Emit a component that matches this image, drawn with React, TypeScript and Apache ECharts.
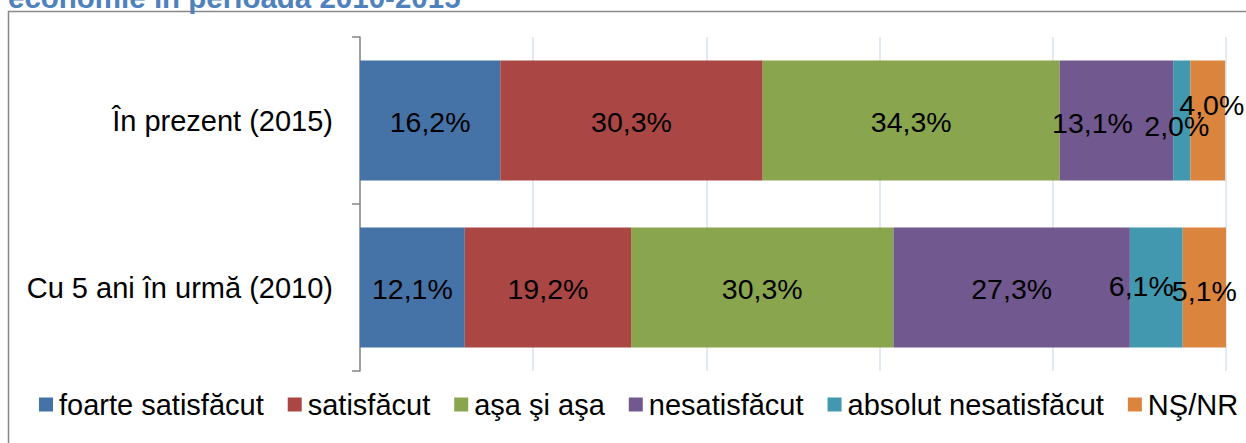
import React, { useEffect, useRef } from "react";
import * as echarts from "echarts";

const categories = ["În prezent (2015)", "Cu 5 ani în urmă (2010)"];
const seriesNames = [
  "foarte satisfăcut",
  "satisfăcut",
  "aşa şi aşa",
  "nesatisfăcut",
  "absolut nesatisfăcut",
  "NŞ/NR",
];
const values2015 = [16.2, 30.3, 34.3, 13.1, 2.0, 4.0];
const values2010 = [12.1, 19.2, 30.3, 27.3, 6.1, 5.1];
const colors = ["#4572A7", "#AA4643", "#89A54E", "#71588F", "#4198AF", "#DB843D"];
// label nudges [dx, dy] per series for [2015, 2010]
const labelOffsets: number[][][] = [
  [[0, 1], [0, 1]],
  [[0, 1], [0, 1]],
  [[0, 1], [0, 1]],
  [[-24, 2], [0, 1]],
  [[-5, 5], [-15, -2]],
  [[4, -16], [0, 3]],
];
const titleText = "economie în perioada 2010-2015";

const FONT = "Arial, 'Liberation Sans', sans-serif";

export default function App() {
  const ref = useRef<HTMLDivElement>(null);
  useEffect(() => {
    if (!ref.current) return;
    const chart = echarts.init(ref.current, null, { renderer: "svg" });
    const fmt = (v: number) => v.toFixed(1).replace(".", ",") + "%";
    const series = seriesNames.map((name, i) => ({
      name,
      type: "bar",
      stack: "total",
      barCategoryGap: "28%",
      itemStyle: { color: colors[i] },
      label: {
        show: true,
        position: "inside",
        color: "#000",
        fontFamily: FONT,
        fontSize: 28.5,
        formatter: (p: any) => fmt(p.value),
      },
      data: [values2015[i], values2010[i]].map((v, j) => ({
        value: v,
        label: { offset: labelOffsets[i][j] },
      })),
    }));
    chart.setOption({
      animation: false,
      textStyle: { fontFamily: FONT },
      graphic: [
        {
          type: "rect",
          shape: { x: 8.5, y: 11.5, width: 1400, height: 600 },
          style: { fill: "none", stroke: "#888888", lineWidth: 1.5 },
          silent: true,
        },
        {
          type: "text",
          x: 8,
          y: -2.5,
          style: {
            text: titleText,
            fill: "#4F81BD",
            font: "bold 29.5px Arial, 'Liberation Sans', sans-serif",
            verticalAlign: "middle",
          },
        },
      ],
      legend: {
        left: 34,
        top: 385,
        itemWidth: 14,
        itemHeight: 14,
        itemGap: 24,
        icon: "rect",
        textStyle: { fontSize: 29, color: "#000", fontFamily: FONT, padding: [0, 0, 0, 1] },
        data: seriesNames,
      },
      grid: { left: 360, right: 20, top: 37, bottom: 72, containLabel: false },
      xAxis: {
        type: "value",
        min: 0,
        max: 100,
        interval: 20,
        axisLabel: { show: false },
        axisLine: { show: false },
        axisTick: { show: false },
        splitLine: { show: true, lineStyle: { color: "#D9E3F1", width: 1.5 } },
      },
      yAxis: {
        type: "category",
        inverse: true,
        data: categories,
        axisLine: { show: true, lineStyle: { color: "#868686", width: 1.5 } },
        axisTick: { show: true, length: 8, lineStyle: { color: "#868686", width: 1.5 } },
        axisLabel: { color: "#000", fontSize: 29, fontFamily: FONT, margin: 27 },
      },
      series,
    });
    return () => chart.dispose();
  }, []);
  return (
    <div
      ref={ref}
      style={{ position: "fixed", left: 0, top: 0, width: 1246, height: 443, background: "#fff" }}
    />
  );
}
